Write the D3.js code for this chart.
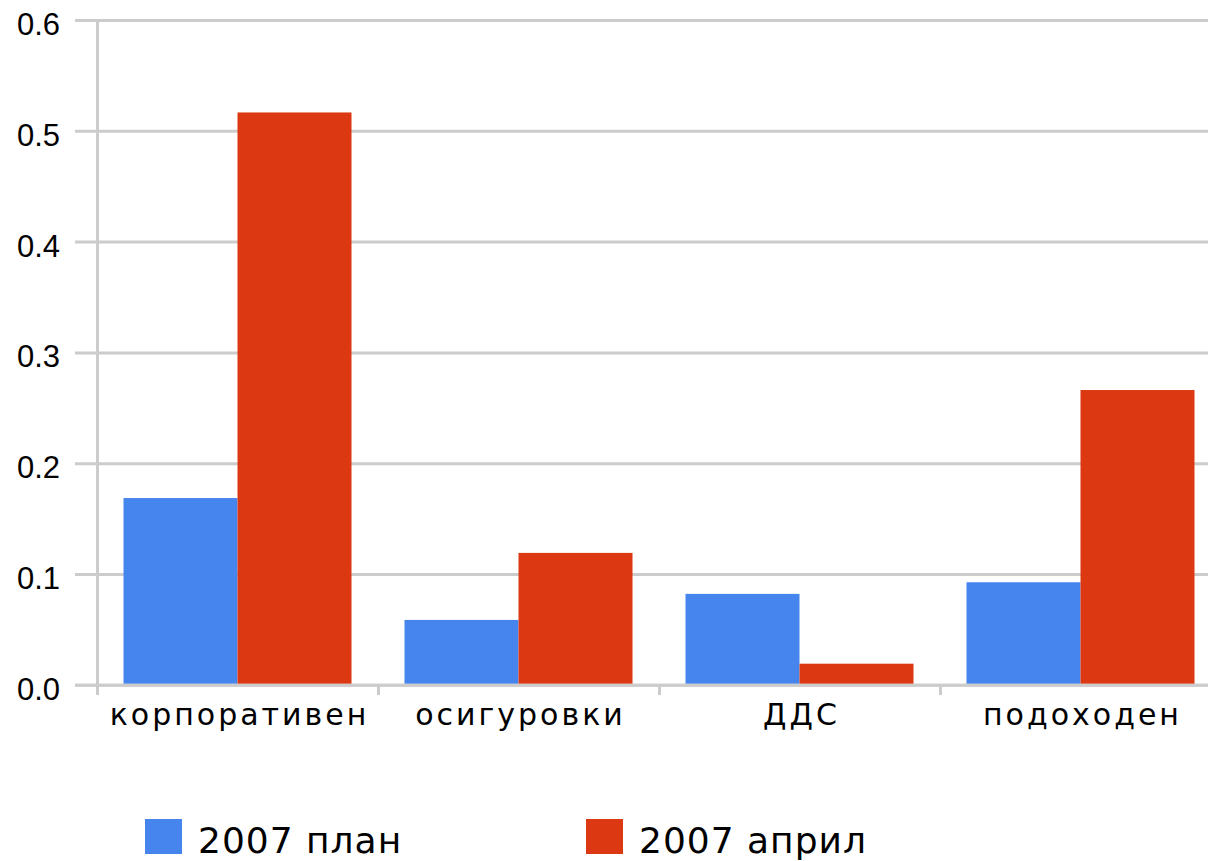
<!DOCTYPE html>
<html><head><meta charset="utf-8">
<script src="https://cdn.jsdelivr.net/npm/d3@7"></script>
<style>html,body{margin:0;padding:0;background:#fff;overflow:hidden}</style>
</head><body>
<script>
const categories = ["корпоративен", "осигуровки", "ДДС", "подоходен"];
const seriesNames = ["2007 план", "2007 април"];
const plan2007 = [0.169, 0.059, 0.0825, 0.093];
const april2007 = [0.517, 0.1195, 0.0195, 0.2665];
const yTicks = [0.0, 0.1, 0.2, 0.3, 0.4, 0.5, 0.6];
const colors = ["#4684EE", "#DC3912"];

const W = 1208, H = 861;
const svg = d3.select("body").append("svg").attr("width", W).attr("height", H);

const y = d3.scaleLinear().domain([0, 0.6]).range([685.3, 20.5]);
const x = d3.scaleBand().domain(categories).range([97, 1221]).padding(0);
const xs = d3.scaleBand().domain(seriesNames).range([26.5, 254.5]).padding(0);

const grid = "#cccccc";
// gridlines
svg.append("g").selectAll("line").data(yTicks).join("line")
  .attr("x1", 75).attr("x2", W)
  .attr("y1", d => y(d)).attr("y2", d => y(d))
  .attr("stroke", grid).attr("stroke-width", 3);
// y axis line
svg.append("line").attr("x1", 97.5).attr("x2", 97.5)
  .attr("y1", y(0.6) - 1.5).attr("y2", 695)
  .attr("stroke", grid).attr("stroke-width", 3);
// category ticks
svg.append("g").selectAll("line").data(categories).join("line")
  .attr("x1", d => x(d) + 0.5).attr("x2", d => x(d) + 0.5)
  .attr("y1", y(0)).attr("y2", 695)
  .attr("stroke", grid).attr("stroke-width", 3);

// y labels
svg.append("g").selectAll("text").data(yTicks).join("text")
  .attr("x", 60).attr("y", d => y(d) + 14.5)
  .attr("text-anchor", "end")
  .attr("font-family", "Liberation Sans, Arial, sans-serif")
  .attr("font-size", 31).attr("fill", "#000")
  .text(d => d.toFixed(1));

// bars
const rows = categories.map((c, i) => ({c, vals: [plan2007[i], april2007[i]]}));
const groups = svg.append("g").selectAll("g").data(rows).join("g")
  .attr("transform", d => `translate(${x(d.c)},0)`);
groups.selectAll("rect").data(d => d.vals.map((v, j) => ({v, s: seriesNames[j], j})))
  .join("rect")
  .attr("x", d => xs(d.s)).attr("width", xs.bandwidth())
  .attr("y", d => y(d.v)).attr("height", d => y(0) - y(d.v) - 1.5)
  .attr("fill", d => colors[d.j]);

// redraw baseline on top
svg.append("line").attr("x1", 75).attr("x2", W)
  .attr("y1", y(0)).attr("y2", y(0))
  .attr("stroke", grid).attr("stroke-width", 3);

// category labels
svg.append("g").selectAll("text").data(categories).join("text")
  .attr("x", d => x(d) + x.bandwidth() / 2 + 2)
  .attr("y", 725)
  .attr("text-anchor", "middle")
  .attr("font-family", "DejaVu Sans, sans-serif")
  .attr("font-size", 30).attr("letter-spacing", 3).attr("fill", "#000")
  .text(d => d);

// legend
const legX = [145, 586];
const leg = svg.append("g").selectAll("g").data(seriesNames).join("g")
  .attr("transform", (d, i) => `translate(${legX[i]},0)`);
leg.append("rect").attr("x", 0).attr("y", 819).attr("width", 37).attr("height", 35)
  .attr("fill", (d, i) => colors[i]);
leg.append("text").attr("x", 53).attr("y", 853)
  .attr("font-family", "DejaVu Sans, sans-serif")
  .attr("font-size", 36).attr("letter-spacing", 1).attr("fill", "#000")
  .text(d => d);
</script>
</body></html>
